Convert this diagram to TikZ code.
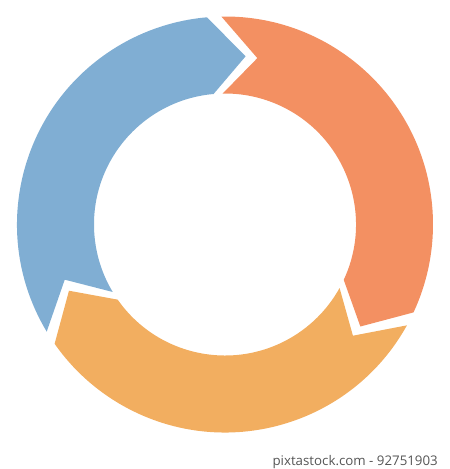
\documentclass[tikz,border=0pt]{standalone}
\usepackage{fontspec}
\setmainfont{Open Sans}
\definecolor{segblue}{HTML}{80AED3}
\definecolor{segorange}{HTML}{F39062}
\definecolor{segyellow}{HTML}{F2AE60}
\definecolor{marktext}{HTML}{555555}
\tikzset{
  segment/.style={fill=#1, draw=none},
}
\newcommand{\cycseg}[2]{%
  % #1 = tip angle, #2 = colour
  \pgfmathsetmacro{\tipA}{#1}
  \pgfmathsetmacro{\tailA}{#1+116}
  \pgfmathsetmacro{\apexA}{#1-12}
  \pgfmathsetmacro{\notchA}{#1+116-12}
  \fill[segment=#2] (\tailA:208pt) arc[start angle=\tailA, end angle=\tipA, radius=208pt]
    -- (\apexA:169.5pt) -- (\tipA:131pt)
    arc[start angle=\tipA, end angle=\tailA, radius=131pt]
    -- (\notchA:169.5pt) -- cycle;
}
\begin{document}
\begin{tikzpicture}[x=1pt,y=1pt]
\useasboundingbox (0,0) rectangle (450,469);
\coordinate (c) at (225,244.5);
\begin{scope}[shift={(c)}]
  \cycseg{95}{segblue}
  \cycseg{-25}{segorange}
  \cycseg{-145}{segyellow}
\end{scope}
\node[anchor=base east, inner sep=0pt, font=\fontsize{13.3}{15}\selectfont, text=marktext] (mark) at (438,3) {pixtastock.com - 92751903};
\end{tikzpicture}
\end{document}
